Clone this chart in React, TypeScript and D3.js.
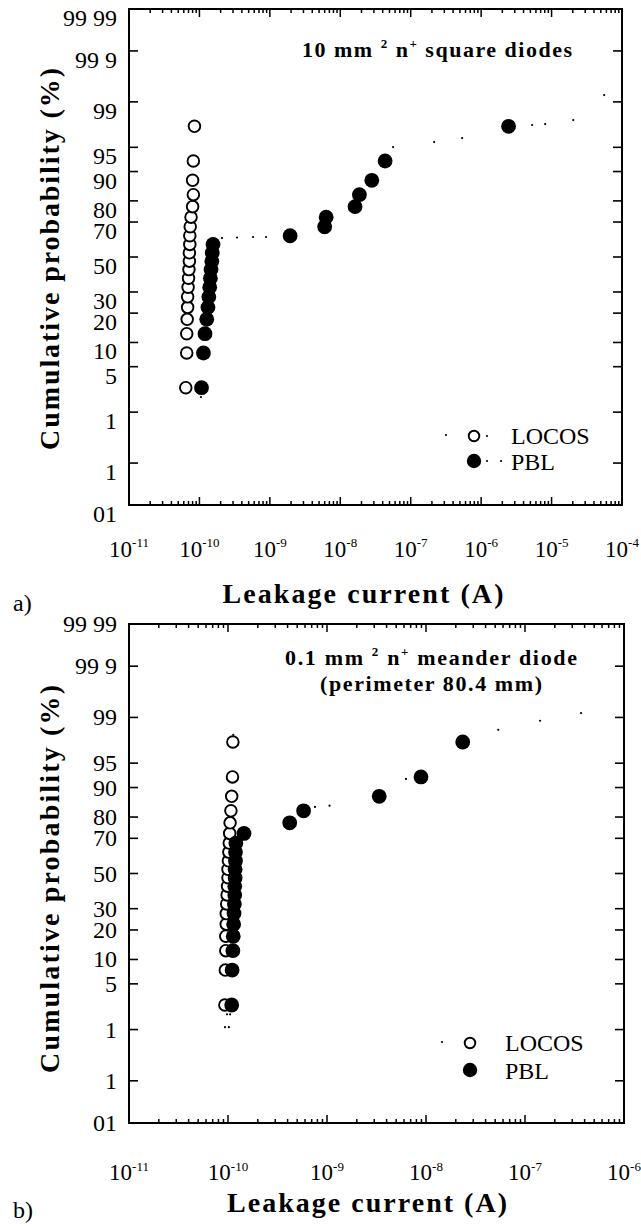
import React from "react";
import * as d3 from "d3";

// ---------- data ----------
const PROBS = [2.5, 7.5, 12.5, 17.5, 22.5, 27.5, 32.5, 37.5, 42.5, 47.5, 52.5, 57.5, 62.5, 67.5, 72.5, 77.5, 82.5, 87.5, 92.5, 97.5];

const A_LOCOS = [6.4e-11, 6.6e-11, 6.6e-11, 6.7e-11, 6.8e-11, 6.8e-11, 6.9e-11, 7.0e-11, 7.1e-11, 7.2e-11, 7.2e-11, 7.3e-11, 7.3e-11, 7.4e-11, 7.6e-11, 8.0e-11, 8.2e-11, 8.0e-11, 8.2e-11, 8.5e-11];
const A_PBL = [1.07e-10, 1.14e-10, 1.2e-10, 1.27e-10, 1.32e-10, 1.36e-10, 1.4e-10, 1.43e-10, 1.46e-10, 1.5e-10, 1.52e-10, 1.56e-10, 1.94e-9, 6.0e-9, 6.3e-9, 1.62e-8, 1.87e-8, 2.8e-8, 4.33e-8, 2.45e-6];
const A_DOT_I = [1.05e-10, 2.09e-10, 3.42e-10, 5.77e-10, 8.83e-10, 5.62e-8, 2.15e-7, 5.37e-7, 5.3e-6, 8.11e-6, 2.03e-5, 5.58e-5];
const A_DOT_P = [1.79, 61.2, 61.5, 61.8, 61.8, 95.04, 95.76, 96.28, 97.61, 97.69, 98.0, 99.24];

const B_LOCOS = [9.3e-11, 9.4e-11, 9.5e-11, 9.5e-11, 9.6e-11, 9.6e-11, 9.7e-11, 9.8e-11, 9.9e-11, 1.0e-10, 1.0e-10, 1.01e-10, 1.02e-10, 1.03e-10, 1.04e-10, 1.05e-10, 1.07e-10, 1.09e-10, 1.11e-10, 1.12e-10];
const B_PBL = [1.09e-10, 1.1e-10, 1.12e-10, 1.13e-10, 1.14e-10, 1.15e-10, 1.16e-10, 1.17e-10, 1.17e-10, 1.18e-10, 1.18e-10, 1.19e-10, 1.19e-10, 1.2e-10, 1.45e-10, 4.2e-10, 5.8e-10, 3.37e-9, 8.9e-9, 2.35e-8];
const B_DOT_I = [1.13e-10, 9.77e-11, 1.05e-10, 9.33e-11, 1.02e-10, 7.56e-10, 1.06e-9, 6.28e-9, 5.37e-8, 1.42e-7, 3.68e-7];
const B_DOT_P = [98.07, 1.79, 1.79, 1.1, 1.1, 83.95, 84.4, 92.06, 98.39, 98.86, 99.16];

const PROB_TICKS = [99.99, 99.9, 99, 95, 90, 80, 70, 50, 30, 20, 10, 5, 1, 0.1, 0.01];
const PROB_TICK_LABELS = ["99 99", "99 9", "99", "95", "90", "80", "70", "50", "30", "20", "10", "5", "1", "1", "01"];

const A_X_EXP = [-11, -10, -9, -8, -7, -6, -5, -4];
const B_X_EXP = [-11, -10, -9, -8, -7, -6];

const SERIES_NAMES = ["LOCOS", "PBL"];

// ---------- helpers ----------
function probit(p: number): number {
  const a = [-3.969683028665376e1, 2.209460984245205e2, -2.759285104469687e2, 1.38357751867269e2, -3.066479806614716e1, 2.506628277459239];
  const b = [-5.447609879822406e1, 1.615858368580409e2, -1.556989798598866e2, 6.680131188771972e1, -1.328068155288572e1];
  const c = [-7.784894002430293e-3, -3.223964580411365e-1, -2.400758277161838, -2.549732539343734, 4.374664141464968, 2.938163982698783];
  const d = [7.784695709041462e-3, 3.224671290700398e-1, 2.445134137142996, 3.754408661907416];
  const pl = 0.02425;
  if (p < pl) {
    const q = Math.sqrt(-2 * Math.log(p));
    return (((((c[0] * q + c[1]) * q + c[2]) * q + c[3]) * q + c[4]) * q + c[5]) / ((((d[0] * q + d[1]) * q + d[2]) * q + d[3]) * q + 1);
  }
  if (p <= 1 - pl) {
    const q = p - 0.5, r = q * q;
    return ((((((a[0] * r + a[1]) * r + a[2]) * r + a[3]) * r + a[4]) * r + a[5]) * q) / (((((b[0] * r + b[1]) * r + b[2]) * r + b[3]) * r + b[4]) * r + 1);
  }
  const q = Math.sqrt(-2 * Math.log(1 - p));
  return -(((((c[0] * q + c[1]) * q + c[2]) * q + c[3]) * q + c[4]) * q + c[5]) / ((((d[0] * q + d[1]) * q + d[2]) * q + d[3]) * q + 1);
}

const FONT = "'Liberation Serif', 'Times New Roman', serif";

type PanelProps = {
  g: any;
  locos: number[];
  pbl: number[];
  dotI: number[];
  dotP: number[];
  xExps: number[];
};

function Panel({ g, locos, pbl, dotI, dotP, xExps }: PanelProps) {
  const x = d3.scaleLog().domain([Math.pow(10, xExps[0]), Math.pow(10, xExps[xExps.length - 1])]).range([g.left, g.right]);
  const lin = d3.scaleLinear().domain([probit(0.0001), probit(0.9999)]).range([g.bottom, g.top]);
  const y = (p: number) => lin(probit(p / 100));
  const ticks = x.ticks();
  const isMajor = (t: number) => Math.abs(Math.log10(t) - Math.round(Math.log10(t))) < 1e-6;

  return (
    <g>
      <rect x={g.left} y={g.top} width={g.right - g.left} height={g.bottom - g.top} fill="none" stroke="#000" strokeWidth={2} />
      {ticks.map((t, i) => {
        const L = isMajor(t) ? 8 : 4;
        const xx = x(t);
        return (
          <g key={"xt" + i} stroke="#000" strokeWidth={1.5}>
            <line x1={xx} x2={xx} y1={g.bottom} y2={g.bottom - L} />
            <line x1={xx} x2={xx} y1={g.top} y2={g.top + L} />
          </g>
        );
      })}
      {PROB_TICKS.map((p, i) => (
        <g key={"yt" + i} stroke="#000" strokeWidth={1.6}>
          <line x1={g.left} x2={g.left + 9} y1={y(p)} y2={y(p)} />
          <line x1={g.right} x2={g.right - 9} y1={y(p)} y2={y(p)} />
        </g>
      ))}
      {PROB_TICKS.map((p, i) => (
        <text key={"yl" + i} x={117} y={y(p) + g.yLabOff} textAnchor="end" fontFamily={FONT} fontSize={24} fill="#000">
          {PROB_TICK_LABELS[i]}
        </text>
      ))}
      {xExps.map((e) => (
        <text key={"xl" + e} x={x(Math.pow(10, e))} y={g.xLabBase} textAnchor="middle" fontFamily={FONT} fontSize={23} fill="#000">
          10
          <tspan fontSize={13} dy={g.supDy}>{String(e)}</tspan>
        </text>
      ))}
      {dotI.map((v, i) => (
        <circle key={"d" + i} cx={x(v)} cy={y(dotP[i])} r={1.1} fill="#000" />
      ))}
      {locos.map((v, i) => (
        <circle key={"l" + i} cx={x(v)} cy={y(PROBS[i])} r={5.8} fill="#fff" stroke="#000" strokeWidth={1.9} />
      ))}
      {pbl.map((v, i) => (
        <circle key={"p" + i} cx={x(v)} cy={y(PROBS[i])} r={7.4} fill="#000" />
      ))}
      {g.legDots.map((dd: number[], i: number) => (
        <circle key={"ld" + i} cx={dd[0]} cy={dd[1]} r={1.1} fill="#000" />
      ))}
      <circle cx={g.legX} cy={g.legY1} r={5.3} fill="#fff" stroke="#000" strokeWidth={1.9} />
      <circle cx={g.legX} cy={g.legY2} r={7.2} fill="#000" />
      <text x={g.legTextX} y={g.legY1 + 8} fontFamily={FONT} fontSize={24} fill="#000">{SERIES_NAMES[0]}</text>
      <text x={g.legTextX} y={g.legY2 + 9} fontFamily={FONT} fontSize={24} fill="#000">{SERIES_NAMES[1]}</text>
      <text x={g.xTitleX} y={g.xTitleY} textAnchor="middle" fontFamily={FONT} fontWeight="bold" fontSize={28} textLength={g.xTitleLen} lengthAdjust="spacing" fill="#000">
        Leakage current  (A)
      </text>
      <text transform={`translate(59,${g.yTitleY}) rotate(-90)`} textAnchor="middle" fontFamily={FONT} fontWeight="bold" fontSize={28} textLength={g.yTitleLen} lengthAdjust="spacing" fill="#000">
        Cumulative probability  (%)
      </text>
      <text x={13} y={g.tagY} fontFamily={FONT} fontSize={24} fill="#000">{g.tag}</text>
    </g>
  );
}

const GA = {
  left: 129, right: 622, top: 9, bottom: 505,
  yLabOff: 17, xLabBase: 557, supDy: -10,
  legX: 474, legY1: 436, legY2: 461, legTextX: 511,
  legDots: [[446, 435], [487, 436], [487, 461], [501, 461]],
  xTitleX: 363, xTitleY: 603, xTitleLen: 281,
  yTitleY: 259, yTitleLen: 382,
  tag: "a)", tagY: 611,
};
const GB = {
  left: 129, right: 624, top: 624, bottom: 1123,
  yLabOff: 8, xLabBase: 1180, supDy: -9,
  legX: 470, legY1: 1043, legY2: 1070, legTextX: 505,
  legDots: [[442, 1042]],
  xTitleX: 367, xTitleY: 1212, xTitleLen: 280,
  yTitleY: 879, yTitleLen: 388,
  tag: "b)", tagY: 1218,
};

export default function App() {
  return (
    <svg width={641} height={1226} style={{ position: "absolute", left: 0, top: 0, background: "#fff" }}>
      <rect width={641} height={1226} fill="#fff" />
      <Panel g={GA} locos={A_LOCOS} pbl={A_PBL} dotI={A_DOT_I} dotP={A_DOT_P} xExps={A_X_EXP} />
      <Panel g={GB} locos={B_LOCOS} pbl={B_PBL} dotI={B_DOT_I} dotP={B_DOT_P} xExps={B_X_EXP} />
      <text x={302} y={57} fontFamily={FONT} fontWeight="bold" fontSize={22} textLength={270} lengthAdjust="spacing" fill="#000">
        10 mm <tspan fontSize={13} dy={-9}>2</tspan><tspan dy={9}> n</tspan><tspan fontSize={13} dy={-9}>+</tspan><tspan dy={9}> square diodes</tspan>
      </text>
      <text x={285} y={665} fontFamily={FONT} fontWeight="bold" fontSize={22} textLength={292} lengthAdjust="spacing" fill="#000">
        0.1 mm <tspan fontSize={13} dy={-9}>2</tspan><tspan dy={9}> n</tspan><tspan fontSize={13} dy={-9}>+</tspan><tspan dy={9}> meander diode</tspan>
      </text>
      <text x={320} y={691} fontFamily={FONT} fontWeight="bold" fontSize={22} textLength={222} lengthAdjust="spacing" fill="#000">
        (perimeter 80.4 mm)
      </text>
    </svg>
  );
}
